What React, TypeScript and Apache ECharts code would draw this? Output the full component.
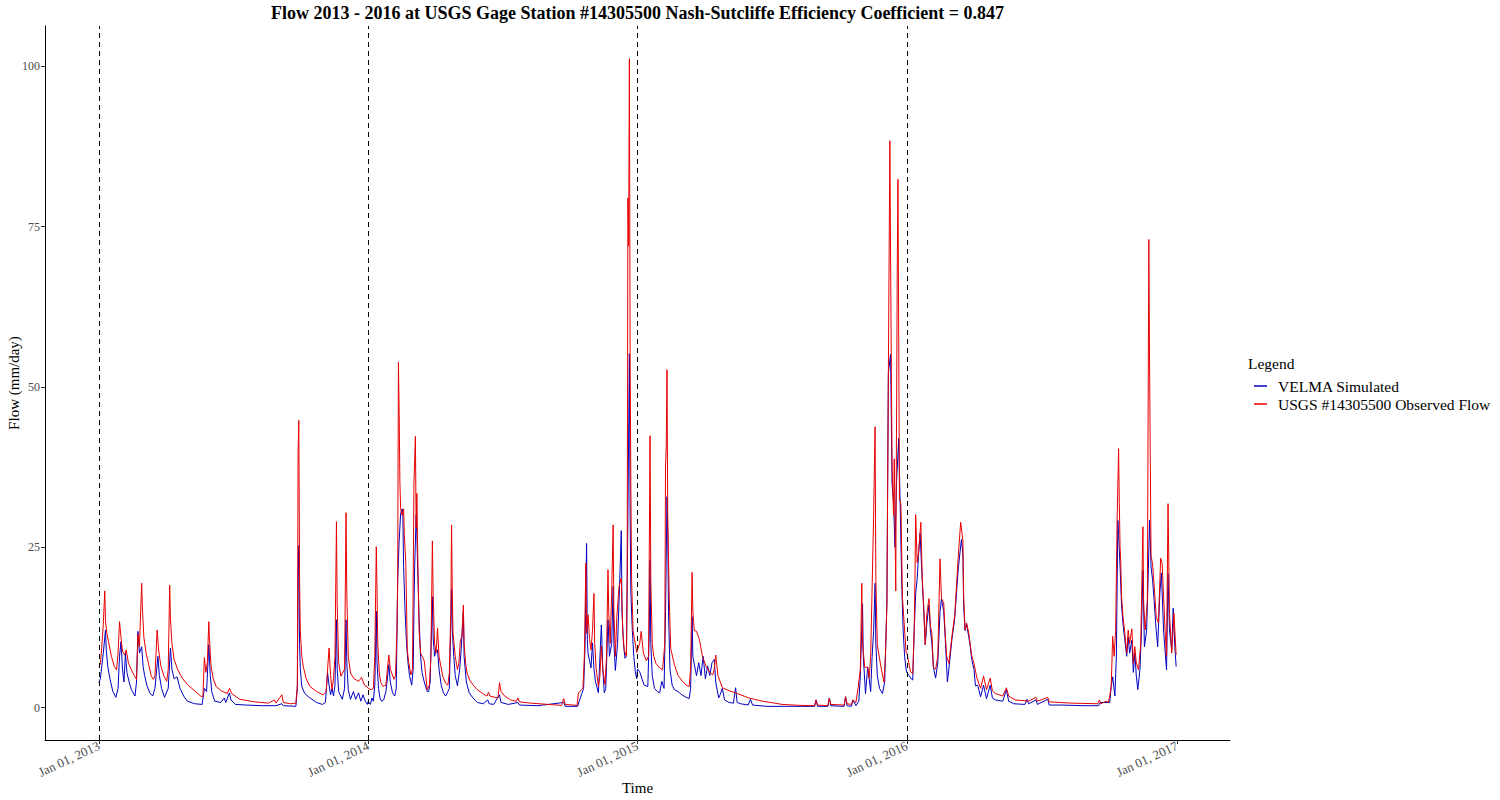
import React, { useEffect, useRef } from "react";
import * as echarts from "echarts";

type Pt = [number, number];

// [day of year (0 = Jan 1), flow mm/day]
const observed2013: Pt[] = [[0,6.4],[2,6.8],[4,9.5],[6,13.0],[8,18.2],[9,13.5],[11,11.5],[13,10.3],[17,8.0],[21,6.4],[24,5.9],[26,8.5],[28,13.4],[30,11.0],[32,8.8],[35,8.2],[37,9.0],[40,7.0],[44,5.9],[48,5.0],[51,4.4],[53,11.5],[55,9.5],[58,19.4],[59,15.5],[61,11.0],[64,8.5],[67,7.0],[71,4.9],[74,4.4],[76,5.0],[79,12.1],[81,9.0],[84,6.5],[88,5.0],[92,4.1],[94,6.0],[96,19.1],[97,14.0],[99,10.0],[102,7.5],[107,5.9],[113,4.6],[120,3.6],[130,2.6],[138,1.8],[141,1.7],[143,7.8],[145,5.5],[147,7.0],[149,13.4],[150,10.5],[152,6.5],[155,4.5],[159,3.3],[166,2.6],[174,2.2],[177,3.0],[180,2.2],[191,1.3],[211,0.9],[230,0.7],[238,1.2],[240,0.7],[248,2.0],[250,0.8],[260,0.6],[267,0.7],[269,3.5],[270,39.6],[271,44.8],[272,20.0],[273,12.0],[275,8.0],[277,6.4],[281,4.5],[286,3.3],[295,2.5],[304,2.0],[308,2.5],[310,6.0],[312,9.3],[314,5.0],[316,2.8],[318,4.5],[320,8.0],[322,29.0],[323,16.0],[325,7.0],[328,4.9],[333,6.0],[335,30.4],[336,18.0],[338,8.0],[341,5.4],[346,4.5],[352,4.1],[356,4.7],[360,3.5],[364,3.2]];

const simulated2013: Pt[] = [[0,3.9],[2,4.5],[4,6.5],[6,8.5],[9,12.1],[10,9.0],[12,6.5],[15,4.5],[19,2.5],[23,1.6],[26,3.0],[28,8.0],[30,10.3],[32,6.0],[34,4.0],[36,8.5],[38,5.5],[41,4.0],[44,2.8],[49,1.8],[51,4.0],[53,11.9],[55,8.5],[58,9.5],[60,6.4],[62,5.0],[65,3.5],[69,2.3],[73,1.8],[76,3.0],[80,8.0],[82,5.0],[85,3.0],[89,1.6],[94,3.0],[97,9.3],[99,6.0],[102,4.5],[106,4.8],[110,3.0],[115,1.8],[120,1.0],[130,0.6],[140,0.5],[143,3.0],[146,2.5],[149,9.8],[151,5.0],[153,2.5],[157,1.0],[165,0.8],[170,1.5],[172,0.8],[177,2.3],[179,1.2],[185,0.5],[200,0.4],[220,0.3],[240,0.3],[248,0.6],[250,0.3],[267,0.2],[269,3.0],[270,20.0],[271,25.3],[272,10.0],[273,6.0],[275,3.3],[279,2.2],[285,1.6],[295,0.8],[303,0.5],[307,0.8],[310,5.4],[312,3.5],[314,2.0],[316,3.0],[318,1.8],[320,3.5],[322,13.7],[323,6.0],[325,2.5],[327,2.0],[330,1.3],[333,3.0],[335,13.7],[336,7.0],[338,2.8],[341,1.3],[345,2.5],[348,1.3],[352,2.3],[355,1.0],[358,2.0],[361,1.0],[364,0.5]];

const observed2014: Pt[] = [[0,3.0],[4,2.8],[7,3.0],[9,8.0],[11,25.1],[12,18.0],[13,10.0],[15,5.5],[17,3.9],[20,3.3],[24,3.5],[26,6.0],[28,8.2],[30,6.0],[35,4.4],[37,5.0],[39,12.0],[40,20.0],[41,53.9],[42,45.9],[43,35.0],[44,31.0],[46,30.0],[48,31.0],[49,27.0],[51,22.5],[53,9.0],[55,7.0],[58,5.1],[60,6.0],[61,20.0],[62,35.0],[64,42.3],[65,28.0],[66,33.4],[67,25.0],[69,12.0],[71,8.5],[76,7.3],[80,2.8],[83,3.5],[85,8.0],[87,26.0],[88,18.0],[90,10.0],[92,8.5],[94,12.4],[96,8.0],[101,4.9],[105,3.8],[108,3.5],[110,5.5],[112,15.0],[113,28.5],[114,18.0],[115,11.6],[118,8.0],[121,5.9],[123,7.0],[125,10.6],[127,11.0],[129,16.0],[130,10.0],[132,7.0],[134,5.4],[138,4.2],[143,3.4],[148,2.8],[155,2.2],[161,1.8],[163,2.4],[165,1.8],[172,1.6],[176,1.5],[178,3.9],[180,2.5],[185,1.8],[193,1.2],[201,1.0],[203,1.5],[205,0.9],[220,0.7],[244,0.5],[262,0.35],[265,1.4],[267,0.5],[283,0.35],[285,2.3],[289,2.8],[291,3.0],[293,8.0],[295,22.5],[296,11.6],[298,14.5],[300,10.6],[302,9.0],[304,12.0],[306,17.8],[307,10.0],[309,6.0],[312,3.3],[314,4.8],[316,9.6],[318,6.0],[321,3.6],[323,8.0],[325,21.5],[326,15.0],[328,10.0],[330,18.0],[332,28.5],[333,15.0],[335,8.0],[337,14.2],[340,18.9],[343,20.2],[345,12.0],[347,9.0],[350,8.0],[351,20.0],[352,79.5],[353,72.0],[354,101.2],[355,55.0],[356,35.0],[357,20.0],[359,12.0],[361,10.6],[364,8.6]];

const simulated2014: Pt[] = [[0,1.0],[3,0.5],[5,1.5],[7,1.0],[9,3.5],[11,15.0],[12,7.0],[14,3.0],[16,1.5],[18,1.0],[21,1.2],[24,2.5],[27,5.5],[28,6.7],[30,4.0],[33,2.3],[36,1.8],[38,3.0],[39,11.0],[40,20.0],[42,26.0],[44,30.3],[46,31.0],[47,30.0],[48,22.0],[50,15.0],[52,10.0],[54,7.0],[56,5.0],[59,3.5],[61,6.0],[62,15.0],[63,22.0],[65,30.0],[66,27.0],[67,22.0],[69,14.0],[71,8.0],[73,5.5],[76,4.0],[80,2.5],[82,2.5],[84,4.0],[87,17.3],[88,11.0],[90,8.0],[92,9.0],[94,9.0],[96,6.0],[99,3.5],[102,2.3],[105,1.8],[108,2.5],[110,3.0],[113,18.4],[114,12.0],[116,8.0],[118,5.0],[121,3.4],[124,6.0],[126,9.0],[129,15.0],[130,8.0],[133,4.0],[137,2.3],[142,1.5],[148,0.8],[156,0.6],[162,1.2],[164,0.6],[170,0.5],[178,2.0],[180,0.8],[190,0.5],[203,0.8],[205,0.4],[230,0.3],[265,0.8],[267,0.2],[284,0.2],[286,1.0],[289,2.0],[292,3.0],[294,10.0],[296,25.6],[297,10.6],[298,8.4],[300,7.3],[302,6.2],[304,10.1],[306,6.0],[308,4.1],[312,2.3],[316,12.9],[318,6.0],[320,2.3],[322,3.0],[325,13.7],[327,8.0],[330,10.0],[332,18.9],[333,10.0],[335,5.8],[338,10.0],[341,20.0],[343,27.6],[344,15.0],[346,10.0],[348,7.7],[350,8.0],[352,30.0],[354,55.2],[355,30.0],[356,18.0],[358,12.0],[360,8.0],[362,5.6],[364,4.5]];

const observed2015: Pt[] = [[0,9.0],[3,10.0],[5,11.9],[8,8.5],[12,7.3],[15,8.0],[16,25.0],[17,42.4],[18,20.0],[20,10.0],[22,8.0],[25,6.9],[30,6.2],[34,5.9],[37,10.0],[38,37.5],[39,41.1],[40,52.7],[41,30.0],[43,17.1],[45,9.2],[50,6.7],[55,5.0],[61,4.1],[66,3.5],[70,3.3],[72,6.0],[74,21.1],[75,15.0],[77,12.0],[80,11.9],[84,10.6],[88,8.0],[93,6.4],[98,5.5],[102,5.1],[104,6.0],[106,8.2],[109,5.0],[115,3.1],[125,2.6],[133,2.3],[151,1.5],[170,1.0],[196,0.5],[220,0.35],[240,0.3],[242,1.2],[244,0.4],[258,0.3],[260,1.5],[262,0.5],[280,0.4],[282,1.7],[284,0.6],[290,0.5],[292,1.2],[296,0.8],[299,3.1],[302,6.0],[304,19.4],[305,10.0],[308,6.3],[312,6.3],[314,4.6],[316,8.0],[318,18.8],[320,30.0],[322,43.8],[323,20.0],[325,9.8],[330,6.3],[334,4.0],[336,8.0],[338,16.2],[340,52.0],[342,88.4],[343,70.2],[345,37.7],[347,30.0],[348,38.8],[350,18.2],[352,67.8],[353,82.4],[355,32.4],[357,31.8],[359,17.3],[362,12.1],[364,8.6]];

const simulated2015: Pt[] = [[0,6.0],[3,5.6],[6,4.5],[9,3.5],[14,3.3],[16,12.0],[17,23.0],[18,10.0],[20,5.0],[23,3.0],[27,2.5],[30,2.3],[33,4.1],[36,3.0],[38,15.0],[40,32.9],[41,27.0],[42,15.0],[44,6.0],[47,3.5],[50,2.8],[55,2.5],[60,2.0],[66,1.6],[70,1.4],[72,3.0],[74,14.2],[75,8.0],[77,6.7],[80,5.0],[83,7.0],[86,5.0],[89,8.0],[92,4.5],[95,6.5],[98,5.0],[101,7.0],[104,7.5],[106,4.0],[110,1.5],[112,2.0],[115,3.0],[118,1.2],[124,0.8],[130,0.7],[133,3.1],[135,0.8],[140,0.6],[150,0.4],[153,1.3],[156,0.4],[175,0.2],[240,0.2],[242,1.2],[244,0.2],[258,0.2],[260,1.5],[262,0.3],[280,0.2],[282,1.7],[284,0.3],[290,0.2],[292,1.2],[296,0.3],[300,1.0],[302,5.0],[305,16.2],[306,8.0],[309,2.2],[312,6.3],[314,4.5],[316,2.5],[318,8.0],[320,12.0],[322,19.4],[323,10.0],[325,5.0],[328,3.0],[332,2.2],[335,4.0],[338,16.2],[340,52.2],[343,55.1],[345,35.0],[347,32.0],[349,25.0],[351,35.0],[354,42.0],[356,31.8],[358,20.0],[360,12.1],[362,8.0],[364,6.0]];

const observed2016: Pt[] = [[0,8.6],[2,7.4],[5,5.6],[8,5.3],[10,12.0],[11,19.7],[12,30.1],[14,22.6],[16,24.3],[19,28.9],[21,20.0],[23,15.6],[25,9.8],[27,14.5],[30,17.0],[32,12.7],[34,11.6],[36,6.3],[39,6.0],[42,8.0],[45,23.2],[47,17.0],[50,16.4],[52,11.6],[54,8.0],[57,6.9],[61,11.0],[65,14.5],[68,20.3],[70,24.1],[73,28.9],[76,26.0],[77,17.5],[79,12.1],[81,13.2],[84,11.6],[86,9.8],[88,8.1],[91,6.9],[95,4.6],[100,3.0],[104,4.9],[108,2.8],[113,4.6],[116,2.6],[120,2.2],[130,1.8],[135,3.1],[138,1.8],[147,1.2],[165,1.0],[175,1.6],[177,1.0],[191,1.6],[193,0.9],[223,0.7],[259,0.6],[261,1.2],[263,0.6],[270,1.0],[273,0.8],[275,1.8],[277,3.3],[279,11.1],[281,8.0],[283,12.0],[285,29.2],[287,40.4],[288,31.8],[289,25.1],[290,22.5],[291,17.3],[293,14.2],[295,12.1],[298,8.5],[300,12.1],[302,10.0],[305,12.3],[307,6.9],[309,9.5],[311,7.0],[314,5.9],[317,10.0],[320,28.2],[321,16.0],[323,12.1],[326,16.8],[328,73.0],[329,53.6],[331,23.6],[333,22.5],[335,19.4],[338,14.2],[341,13.2],[344,23.3],[346,22.5],[350,12.1],[352,8.0],[354,31.8],[356,14.7],[359,8.5],[362,14.7],[365,8.2]];

const simulated2016: Pt[] = [[0,5.5],[3,5.0],[6,4.5],[8,4.3],[10,12.0],[12,17.9],[14,20.0],[16,24.0],[18,27.2],[20,22.0],[23,15.0],[25,9.8],[27,13.0],[30,16.0],[32,12.0],[34,10.0],[36,6.3],[39,4.6],[42,7.0],[45,15.0],[47,17.0],[50,15.0],[52,11.0],[55,4.0],[57,6.0],[61,10.5],[65,14.0],[68,19.0],[70,22.0],[74,26.2],[76,24.0],[77,16.0],[79,12.0],[81,13.0],[84,11.0],[86,9.5],[88,7.5],[91,6.0],[93,3.4],[96,3.5],[100,1.7],[104,3.5],[108,1.4],[113,3.5],[116,1.5],[120,1.2],[130,1.0],[135,2.8],[138,1.0],[145,0.6],[160,0.5],[163,1.3],[165,0.6],[175,1.2],[177,0.5],[191,1.3],[193,0.4],[210,0.4],[240,0.3],[260,0.3],[262,0.8],[270,0.8],[275,0.8],[277,3.3],[279,4.8],[282,1.8],[284,8.0],[286,29.2],[287,27.0],[289,22.0],[291,16.0],[293,13.0],[295,11.0],[298,8.0],[300,11.0],[302,8.5],[305,10.5],[307,5.5],[309,8.5],[311,5.0],[313,2.8],[316,6.0],[318,12.0],[320,21.4],[322,9.5],[325,12.0],[327,20.0],[329,29.2],[331,22.0],[333,20.0],[335,17.0],[338,12.0],[340,9.5],[343,18.0],[345,21.0],[348,12.0],[352,5.9],[354,20.9],[356,12.0],[359,9.0],[361,15.5],[363,10.0],[365,6.4]];

const seriesNames = ["VELMA Simulated", "USGS #14305500 Observed Flow"];
const xTickYears = [2013, 2014, 2015, 2016, 2017];
const dashedLineYears = [2013, 2014, 2015, 2016];
const yTickValues = [0, 25, 50, 75, 100];
const MONTHS = ["Jan", "Feb", "Mar", "Apr", "May", "Jun", "Jul", "Aug", "Sep", "Oct", "Nov", "Dec"];
const titleText = "Flow 2013 - 2016 at USGS Gage Station #14305500 Nash-Sutcliffe Efficiency Coefficient = 0.847";
const xAxisTitle = "Time";
const yAxisTitle = "Flow (mm/day)";

function toSeries(year: number, pts: Pt[]) {
  return pts.map(([d, v]) => [Date.UTC(year, 0, 1 + d), v]);
}

export default function App() {
  const ref = useRef<HTMLDivElement>(null);
  useEffect(() => {
    if (!ref.current) return;
    const chart = echarts.init(ref.current, null, { renderer: "svg" });
    const simulated = [
      ...toSeries(2013, simulated2013),
      ...toSeries(2014, simulated2014),
      ...toSeries(2015, simulated2015),
      ...toSeries(2016, simulated2016),
    ];
    const observed = [
      ...toSeries(2013, observed2013),
      ...toSeries(2014, observed2014),
      ...toSeries(2015, observed2015),
      ...toSeries(2016, observed2016),
    ];
    const first = Date.UTC(2013, 0, 1);
    const last = Date.UTC(2016, 11, 31);
    const pad = (last - first) * 0.05;
    const font = "'Liberation Serif', 'DejaVu Serif', serif";
    const xTicks = xTickYears.map((y) => Date.UTC(y, 0, 1));

    chart.setOption({
      animation: false,
      backgroundColor: "#ffffff",
      grid: { left: 45, right: 270, top: 26, bottom: 60, containLabel: false, outerBoundsMode: "none" },
      graphic: [
        {
          type: "text",
          x: 637.5,
          y: 13,
          style: {
            text: titleText,
            textAlign: "center",
            textVerticalAlign: "middle",
            fontFamily: font,
            fontSize: 18,
            fontWeight: "bold",
            fill: "#000",
          },
        },
        {
          type: "text",
          x: 637.5,
          y: 788,
          style: {
            text: xAxisTitle,
            textAlign: "center",
            textVerticalAlign: "middle",
            fontFamily: font,
            fontSize: 15,
            fill: "#000",
          },
        },
        {
          type: "text",
          x: 14,
          y: 383,
          rotation: Math.PI / 2,
          style: {
            text: yAxisTitle,
            textAlign: "center",
            textVerticalAlign: "middle",
            fontFamily: font,
            fontSize: 15,
            fill: "#000",
          },
        },
        {
          type: "text",
          x: 1248,
          y: 363,
          style: {
            text: "Legend",
            textAlign: "left",
            textVerticalAlign: "middle",
            fontFamily: font,
            fontSize: 15.5,
            fill: "#000",
          },
        },
      ],
      legend: {
        data: seriesNames,
        orient: "vertical",
        left: 1249,
        top: 373,
        itemWidth: 13,
        itemHeight: 1.5,
        itemGap: 2,
        icon: "rect",
        selectedMode: false,
        textStyle: { fontFamily: font, fontSize: 15.5, color: "#000", padding: [0, 0, 0, 6] },
      },
      xAxis: {
        type: "value",
        min: first - pad,
        max: last + pad,
        axisLine: { show: true, onZero: false, lineStyle: { color: "#000", width: 1 } },
        axisTick: { show: true, length: 4, lineStyle: { color: "#333" }, customValues: xTicks },
        axisLabel: {
          customValues: xTicks,
          rotate: 25,
          margin: 5,
          fontFamily: font,
          fontSize: 13,
          color: "#4d4d4d",
          formatter: (v: number) => {
            const d = new Date(v);
            return `${MONTHS[d.getUTCMonth()]} ${String(d.getUTCDate()).padStart(2, "0")}, ${d.getUTCFullYear()}`;
          },
        },
        splitLine: { show: false },
      },
      yAxis: {
        type: "value",
        min: -5.05,
        max: 106.3,
        axisLine: { show: true, onZero: false, lineStyle: { color: "#000", width: 1 } },
        axisTick: { show: true, length: 4, lineStyle: { color: "#333" }, customValues: yTickValues },
        axisLabel: {
          customValues: yTickValues,
          margin: 5,
          fontFamily: font,
          fontSize: 12,
          color: "#4d4d4d",
        },
        splitLine: { show: false },
      },
      series: [
        {
          name: seriesNames[0],
          type: "line",
          data: simulated,
          showSymbol: false,
          symbol: "none",
          lineStyle: { color: "#0000c0", width: 1 },
          itemStyle: { color: "#0000c0" },
          emphasis: { disabled: true },
          silent: true,
          z: 2,
          markLine: {
            silent: true,
            symbol: ["none", "none"],
            label: { show: false },
            lineStyle: { color: "#000", type: [5, 4], width: 1 },
            data: dashedLineYears.map((y) => ({ xAxis: Date.UTC(y, 0, 1) })),
          },
        },
        {
          name: seriesNames[1],
          type: "line",
          data: observed,
          showSymbol: false,
          symbol: "none",
          lineStyle: { color: "#e80000", width: 1 },
          itemStyle: { color: "#e80000" },
          emphasis: { disabled: true },
          silent: true,
          z: 3,
        },
      ],
    });
    return () => chart.dispose();
  }, []);
  return (
    <div
      ref={ref}
      style={{ position: "fixed", left: 0, top: 0, width: 1500, height: 800, background: "#fff" }}
    />
  );
}
